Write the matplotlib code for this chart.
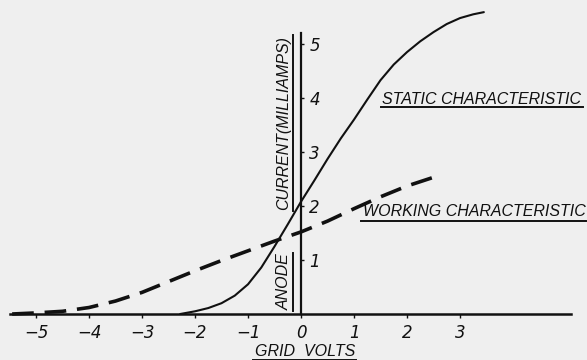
import matplotlib
matplotlib.use("Agg")
import matplotlib.pyplot as plt
from matplotlib.ticker import FixedLocator

# ---- data ----
static_x = [-2.28, -2.0, -1.75, -1.5, -1.25, -1.0, -0.75, -0.5, -0.25, 0.0, 0.25, 0.5,
            0.75, 1.0, 1.25, 1.5, 1.75, 2.0, 2.25, 2.5, 2.75, 3.0, 3.25, 3.45]
static_y = [0.0, 0.05, 0.11, 0.2, 0.34, 0.55, 0.86, 1.25, 1.66, 2.08, 2.47, 2.87,
            3.25, 3.6, 3.97, 4.33, 4.62, 4.85, 5.05, 5.22, 5.37, 5.48, 5.55, 5.59]
working_x = [-5.45, -5.0, -4.5, -4.0, -3.5, -3.0, -2.5, -2.0, -1.5, -1.0, -0.5, 0.0,
             0.5, 1.0, 1.5, 2.0, 2.62]
working_y = [0.0, 0.02, 0.05, 0.12, 0.24, 0.4, 0.6, 0.8, 0.99, 1.17, 1.35, 1.52,
             1.72, 1.95, 2.17, 2.37, 2.57]
x_ticks = [-5, -4, -3, -2, -1, 0, 1, 2, 3]
x_tick_labels = ["\u22125", "\u22124", "\u22123", "\u22122", "\u22121", "0", "1", "2", "3"]
y_ticks = [1, 2, 3, 4, 5]
y_tick_labels = ["1", "2", "3", "4", "5"]

BG = "#efefef"
INK = "#111111"
LABEL_FONT = ["Liberation Sans", "DejaVu Sans"]
TICK_FONT = ["DejaVu Sans"]

W, H = 587, 360
X0, Y0, SX, SY = 301, 314, 53, 54   # pixel position of origin and pixels per unit
fig = plt.figure(figsize=(W / 100, H / 100), dpi=100, facecolor=BG)
ax = fig.add_axes([0, 0, 1, 1], facecolor=BG)
ax.set_xlim(-X0 / SX, (W - X0) / SX)
ax.set_ylim((Y0 - H) / SY, Y0 / SY)

ax.plot(static_x, static_y, color=INK, lw=1.5, solid_capstyle="round")
ax.plot(working_x, working_y, color=INK, lw=2.6, dashes=(6, 3), dash_capstyle="butt")

# axes as spines through the origin
for s in ["top", "left"]:
    ax.spines[s].set_visible(False)
ax.spines["bottom"].set_position(("data", 0))
ax.spines["bottom"].set_bounds(-5.5, 5.1)
ax.spines["bottom"].set_linewidth(1.8)
ax.spines["bottom"].set_color(INK)
ax.spines["right"].set_position(("data", 0))
ax.spines["right"].set_bounds(0, 5.2)
ax.spines["right"].set_linewidth(1.6)
ax.spines["right"].set_color(INK)

ax.xaxis.set_major_locator(FixedLocator(x_ticks))
ax.set_xticklabels(x_tick_labels)
ax.yaxis.tick_right()
ax.yaxis.set_major_locator(FixedLocator(y_ticks))
ax.set_yticklabels(y_tick_labels)
ax.tick_params(axis="x", direction="out", length=3, width=1, colors=INK, pad=4,
               labelsize=12)
ax.tick_params(axis="y", direction="out", length=2, width=1, colors=INK, pad=4,
               labelsize=12)
for lab in ax.get_xticklabels() + ax.get_yticklabels():
    lab.set_fontfamily(TICK_FONT)
    lab.set_fontstyle("italic")

def px(xp, yp):
    return ((xp - X0) / SX, (Y0 - yp) / SY)

texts = []
def label(xp, yp, s, rot=0, size=11):
    x, y = px(xp, yp)
    t = ax.text(x, y, s, rotation=rot, ha="center", va="center", fontsize=size,
                family=LABEL_FONT, style="italic", color=INK)
    texts.append((t, rot))
    return t

label(482, 99, "STATIC CHARACTERISTIC", size=11.5)
label(474, 212, "WORKING CHARACTERISTIC", size=11.5)
label(305, 351, "GRID  VOLTS", size=11.5)
label(284, 123, "CURRENT(MILLIAMPS)", rot=90, size=11.5)
label(284, 282, "ANODE", rot=90, size=11.5)

# underline each label (decoration)
fig.canvas.draw()
r = fig.canvas.get_renderer()
inv = ax.transData.inverted()
for t, rot in texts:
    bb = t.get_window_extent(r)
    if rot == 0:
        (x0, y0) = inv.transform((bb.x0 - 2, bb.y0 - 1))
        (x1, _) = inv.transform((bb.x1 + 1, bb.y0 - 1))
        ax.plot([x0, x1], [y0, y0], color=INK, lw=1.4)
    else:
        (x0, y0) = inv.transform((bb.x1 + 1, bb.y0 - 1))
        (_, y1) = inv.transform((bb.x1 + 1, bb.y1 + 1))
        ax.plot([x0, x0], [y0, y1], color=INK, lw=1.4)

fig.savefig("out.png", dpi=100, facecolor=BG)
